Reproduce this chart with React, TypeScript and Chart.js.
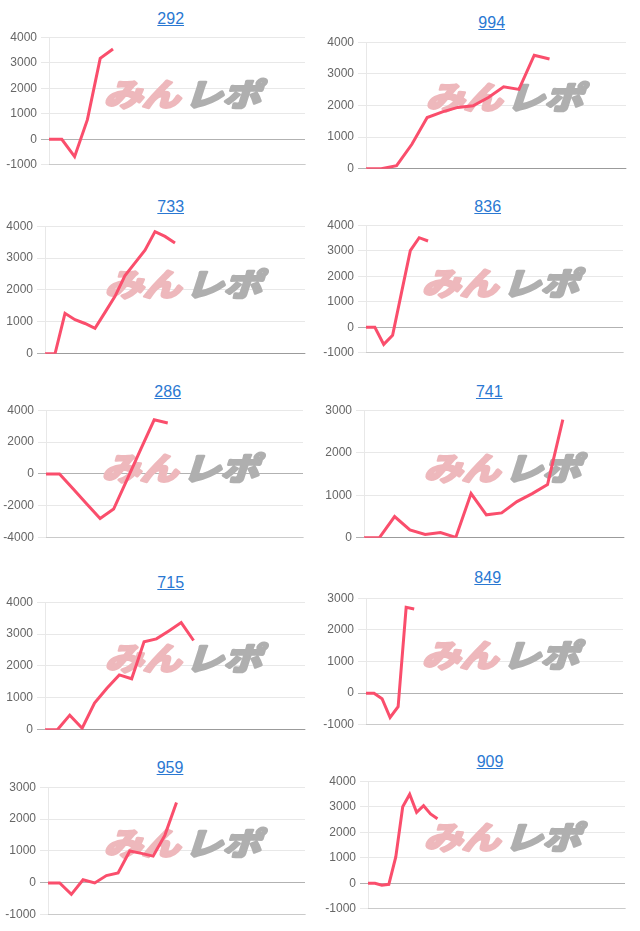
import React, { useEffect, useRef } from "react";
import { Chart, registerables } from "chart.js";

Chart.register(...registerables);

// ---- data ----
const titles = ["292", "994", "733", "836", "286", "741", "715", "849", "959", "909"];

const s292 = [0, 0, -680, 770, 3170, 3540];
const s994 = [0, 0, 100, 775, 1620, 1800, 1940, 1990, 2250, 2590, 2510, 3590, 3470];
const s733 = [0, 0, 1270, 1070, 950, 800, 1300, 1800, 2450, 2850, 3250, 3830, 3680, 3470];
const s836 = [0, 0, -670, -310, 1350, 3000, 3510, 3380];
const s286 = [0, 0, -930, -1860, -2790, -2200, -330, 1550, 3400, 3200];
const s741 = [0, 0, 500, 185, 80, 125, 10, 1040, 540, 585, 850, 1040, 1250, 2780];
const s715 = [0, 0, 460, 50, 840, 1300, 1720, 1600, 2760, 2850, 3100, 3360, 2800];
const s849 = [0, 0, -175, -770, -430, 2710, 2660];
const s959 = [0, 0, -360, 100, 0, 230, 310, 1000, 925, 840, 1490, 2520];
const s909 = [0, 0, -75, -40, 1030, 3000, 3490, 2780, 3040, 2720, 2530];

const seriesList = [s292, s994, s733, s836, s286, s741, s715, s849, s959, s909];

// number of x categories on each chart (x labels hidden)
const categoryCounts = [21, 18, 27, 30, 20, 18, 22, 33, 23, 38];

const yMins = [-1000, 0, 0, -1000, -4000, 0, 0, -1000, -1000, -1000];
const yMaxs = [4000, 4000, 4000, 4000, 4000, 3000, 4000, 3000, 3000, 4000];
const ySteps = [1000, 1000, 1000, 1000, 2000, 1000, 1000, 1000, 1000, 1000];

const watermarkLeft = "みん";
const watermarkRight = "レポ";

// ---- layout (page coordinates) ----
type Layout = { plot: number[]; title: number[]; mark: number[] };
const LAYOUT: Layout[] = [
  { plot: [49, 36, 305, 166], title: [170.7, 19], mark: [186, 93] },
  { plot: [365.7, 40.7, 626, 170], title: [491.7, 22.7], mark: [508, 96] },
  { plot: [45, 225, 305, 355], title: [170.7, 207.3], mark: [187, 283] },
  { plot: [365.7, 224.3, 622.7, 354], title: [487.7, 206.7], mark: [504, 282] },
  { plot: [45.7, 409.3, 302.7, 539], title: [167.7, 391.7], mark: [184, 467] },
  { plot: [364.3, 409.3, 624.3, 539], title: [489.3, 391.7], mark: [506, 467] },
  { plot: [45, 601, 305, 730.7], title: [170.7, 583.3], mark: [187, 657] },
  { plot: [365.7, 597, 622.7, 726], title: [487.7, 578.3], mark: [504, 654] },
  { plot: [48.3, 786, 305, 915.7], title: [170, 768.3], mark: [186, 842] },
  { plot: [368.3, 780, 625, 910], title: [490, 761.7], mark: [506, 836] },
];

const LINE_COLOR = "rgb(250, 78, 108)";
const PAD_V = 10;
const PAD_R = 8;

function drawWord(ctx: CanvasRenderingContext2D, text: string, x: number, fill: string) {
  ctx.fillStyle = fill;
  ctx.strokeStyle = fill;
  ctx.lineWidth = 3.2;
  ctx.lineJoin = "round";
  ctx.strokeText(text, x, 0);
  ctx.fillText(text, x, 0);
}

const watermarkPlugin = {
  id: "wm",
  beforeDatasetsDraw(chart: any, _args: any, opts: any) {
    const ctx = chart.ctx as CanvasRenderingContext2D;
    const cx = opts.x as number;
    const cy = opts.y as number;
    ctx.save();
    ctx.translate(cx, cy + 1);
    ctx.transform(1.12, 0, -0.3, 0.92, 0, 0);
    ctx.font = 'bold 34px "Noto Sans CJK JP"';
    ctx.textBaseline = "middle";
    ctx.textAlign = "left";
    drawWord(ctx, watermarkLeft, -70, "rgb(238, 184, 188)");
    drawWord(ctx, watermarkRight, 2, "rgb(175, 175, 175)");
    ctx.restore();
  },
};

function Panel({ idx }: { idx: number }) {
  const ref = useRef<HTMLCanvasElement>(null);
  const L = LAYOUT[idx];
  const [pl, pt, pr, pb] = L.plot;
  const colLeft = pl > 320 ? 320 : 0;
  const cLeft = colLeft;
  const cTop = Math.round(pt) - PAD_V;
  const cW = Math.round(pr) + PAD_R - colLeft;
  const cH = Math.round(pb) - Math.round(pt) + 2 * PAD_V;
  const yW = Math.round(pl) - colLeft;

  useEffect(() => {
    const labels = Array.from({ length: categoryCounts[idx] }, (_, i) => String(i + 1));
    const chart = new Chart(ref.current as HTMLCanvasElement, {
      type: "line",
      data: {
        labels,
        datasets: [
          {
            data: seriesList[idx],
            borderColor: LINE_COLOR,
            backgroundColor: LINE_COLOR,
            borderWidth: 3,
            pointRadius: 0,
            pointHoverRadius: 0,
            tension: 0,
            fill: false,
          },
        ],
      },
      options: {
        animation: false,
        responsive: false,
        maintainAspectRatio: false,
        events: [],
        layout: { padding: { top: PAD_V, bottom: PAD_V, left: 0, right: PAD_R } },
        plugins: {
          legend: { display: false },
          tooltip: { enabled: false },
          title: { display: false },
          wm: { x: L.mark[0] - cLeft, y: L.mark[1] - cTop },
        } as any,
        scales: {
          x: {
            display: true,
            ticks: { display: false },
            grid: { display: false, drawTicks: false },
            border: { display: true, color: "rgba(0,0,0,0.13)", width: 1 },
            afterFit: (s: any) => {
              s.height = 0;
            },
          },
          y: {
            min: yMins[idx],
            max: yMaxs[idx],
            ticks: {
              stepSize: ySteps[idx],
              color: "#666",
              padding: 4,
              font: { family: '"Liberation Sans", Arial, sans-serif', size: 12 },
              callback: (v: any) => String(v),
            },
            grid: {
              color: (c: any) =>
                c.tick && c.tick.value === 0 ? "rgba(0,0,0,0.3)" : "rgba(0,0,0,0.09)",
              tickLength: 8,
              lineWidth: 1,
            },
            border: { display: true, color: "rgba(0,0,0,0.09)", width: 1 },
            afterFit: (s: any) => {
              s.width = yW;
            },
          },
        },
      },
      plugins: [watermarkPlugin],
    });
    return () => chart.destroy();
  }, []);

  return (
    <>
      <a
        href="#"
        onClick={(e) => e.preventDefault()}
        style={{
          position: "absolute",
          left: L.title[0],
          top: L.title[1],
          transform: "translate(-50%, -50%)",
          color: "#2a78d2",
          textDecoration: "underline",
          fontFamily: '"Liberation Sans", Arial, sans-serif',
          fontSize: 16,
          lineHeight: "18px",
          whiteSpace: "nowrap",
        }}
      >
        {titles[idx]}
      </a>
      <canvas
        ref={ref}
        width={cW}
        height={cH}
        style={{ position: "absolute", left: cLeft, top: cTop, width: cW, height: cH }}
      />
    </>
  );
}

export default function App() {
  return (
    <div
      style={{
        position: "absolute",
        left: 0,
        top: 0,
        width: 640,
        height: 931,
        background: "#fff",
        overflow: "hidden",
      }}
    >
      {titles.map((_, i) => (
        <Panel key={i} idx={i} />
      ))}
    </div>
  );
}
